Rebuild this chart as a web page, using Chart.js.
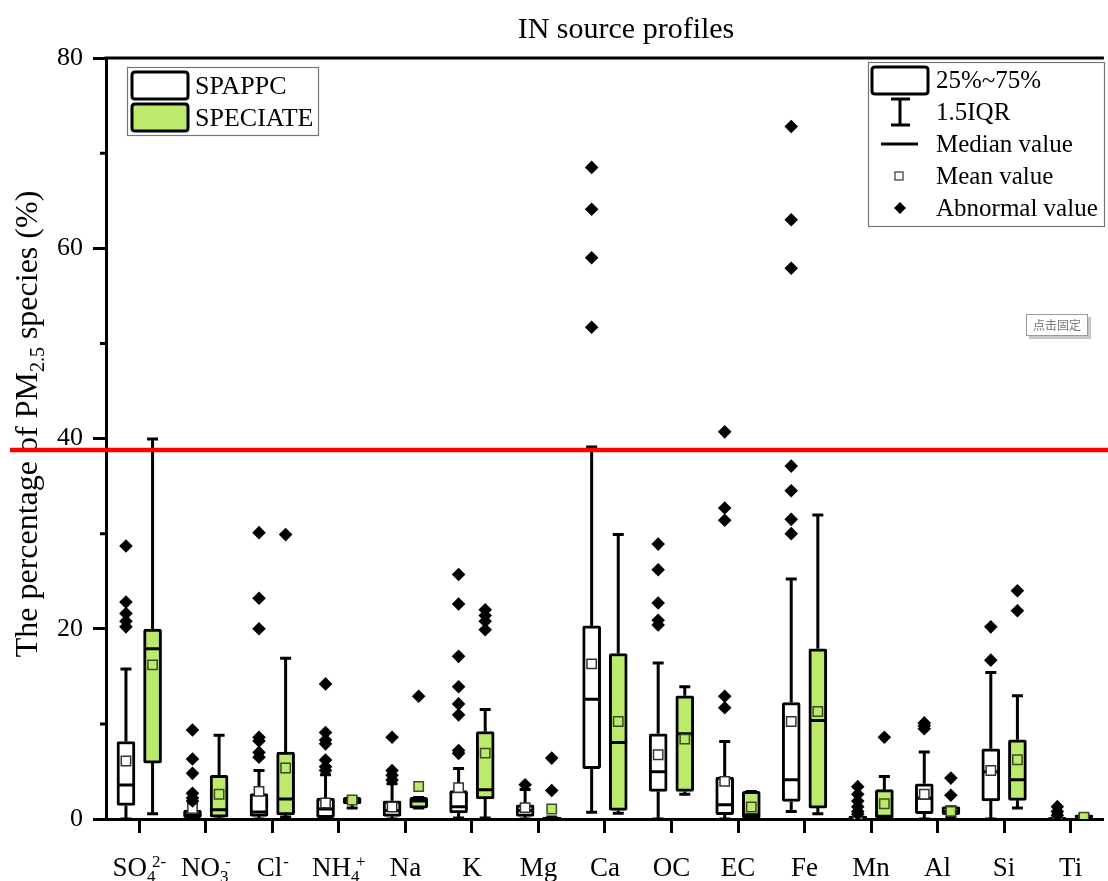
<!doctype html>
<html>

<head>
    <title>IN source profiles</title>
    <script src="https://cdn.jsdelivr.net/npm/chart.js@4/dist/chart.umd.min.js"></script>
    <style>
        html, body { margin: 0; padding: 0; background: #fff; overflow: hidden; }
        #container { width: 1112px; height: 881px; }
    </style>
</head>

<body>
    <div id="container">
        <canvas id="canvas"></canvas>
    </div>
    <script>
        var categories = ['SO4', 'NO3', 'Cl', 'NH4', 'Na', 'K', 'Mg', 'Ca', 'OC', 'EC', 'Fe', 'Mn', 'Al', 'Si', 'Ti'];
        // [base, subscript, superscript] for every x label
        var tickLabels = [['SO', '4', '2-'], ['NO', '3', '-'], ['Cl', '', '-'], ['NH', '4', '+'], ['Na', '', ''],
            ['K', '', ''], ['Mg', '', ''], ['Ca', '', ''], ['OC', '', ''], ['EC', '', ''], ['Fe', '', ''],
            ['Mn', '', ''], ['Al', '', ''], ['Si', '', ''], ['Ti', '', '']];
        var yMinorTicks = [10, 30, 50, 70];
        var refLine = 38.8;

        // SPAPPC
        var spappcQ1 = [1.43, 0.15, 0.28, 0.15, 0.28, 0.63, 0.28, 5.28, 2.9, 0.45, 1.85, 0.02, 0.56, 1.89, 0.02];
        var spappcQ3 = [8.15, 0.95, 2.66, 2.2, 1.92, 3.0, 1.5, 20.3, 8.96, 4.4, 12.25, 0.3, 3.7, 7.38, 0.15];
        var spappcMedian = [3.57, 0.45, 0.73, 1.05, 0.9, 1.3, 0.9, 12.6, 4.97, 1.5, 4.13, 0.1, 2.17, 4.97, 0.05];
        var spappcMean = [6.1, 1.1, 2.9, 1.68, 1.26, 3.3, 1.2, 16.3, 6.75, 3.95, 10.25, 0.35, 2.6, 5.1, 0.2];
        var spappcLow = [0, 0, 0, 0, 0, 0.1, 0, 0.7, 0, 0, 0.8, 0, 0, 0, 0];
        var spappcHigh = [15.76, 1.6, 5.1, 4.65, 3.7, 5.3, 3.1, 39.1, 16.4, 8.15, 25.24, 0.6, 7.04, 15.4, 0.3];
        var spappcOutliers = [
            [28.7, 22.8, 21.6, 20.8, 20.2],
            [9.35, 6.3, 4.8, 2.7, 2.2, 1.9],
            [30.1, 23.2, 20.0, 8.6, 8.2, 7.0, 6.5],
            [14.2, 9.1, 8.3, 7.9, 6.2, 5.5, 5.1],
            [8.6, 5.1, 4.6, 4.1],
            [25.7, 22.6, 17.1, 13.9, 12.1, 10.95, 7.2, 6.9],
            [3.6],
            [68.5, 64.1, 59.0, 51.7],
            [28.9, 26.2, 22.7, 20.9, 20.4],
            [40.7, 32.7, 31.4, 12.9, 11.7],
            [72.8, 63.0, 57.9, 37.1, 34.5, 31.5, 30.0],
            [3.4, 2.6, 1.9, 1.3, 0.8, 0.5],
            [10.1, 9.8, 9.5],
            [20.2, 16.7],
            [1.3, 0.8, 0.4]
        ];

        // SPECIATE
        var speciateQ1 = [5.88, 0.2, 0.42, 1.58, 1.15, 2.1, 0.0, 0.9, 2.9, 0.1, 1.15, 0.1, 0.45, 1.96, 0.05];
        var speciateQ3 = [19.96, 4.58, 7.04, 2.27, 2.27, 9.2, 0.2, 17.4, 12.95, 2.9, 17.9, 3.08, 1.3, 8.33, 0.45];
        var speciateMedian = [17.9, 0.98, 2.1, 2.0, 1.9, 3.08, 0.05, 8.05, 8.96, 0.45, 10.36, 0.3, 0.8, 4.13, 0.2];
        var speciateMean = [16.2, 2.6, 5.36, 2.0, 3.42, 6.93, 1.05, 10.25, 8.4, 1.26, 11.3, 1.6, 0.8, 6.23, 0.2];
        var speciateLow = [0.56, 0, 0.2, 1.15, 1.15, 0.1, 0, 0.6, 2.6, 0, 0.56, 0, 0.2, 1.15, 0];
        var speciateHigh = [39.96, 8.8, 16.9, 2.27, 2.27, 11.5, 0.2, 29.9, 13.9, 2.9, 31.96, 4.47, 1.3, 12.95, 0.45];
        var speciateOutliers = [
            [], [], [29.9], [], [12.9], [22.0, 21.4, 20.8, 19.9], [6.4, 3.0], [], [], [], [], [8.6], [4.3, 2.5], [24.0, 21.9], []
        ];

        var green = '#bbea6c';
        var serif = "'Liberation Serif', 'Times New Roman', serif";
        var offset = 0.2;

        function boxesOf(q1, q3, shift) {
            return q1.map(function (v, i) { return { x: i + shift, y: [v, q3[i]] }; });
        }

        function pointsOf(values, shift) {
            return values.map(function (v, i) { return { x: i + shift, y: v }; });
        }

        function outlierPoints(lists, shift) {
            var pts = [];
            lists.forEach(function (list, i) {
                list.forEach(function (v) { pts.push({ x: i + shift, y: v }); });
            });
            return pts;
        }

        function drawChem(c, parts, cx, base) {
            var big = '27px ' + serif, small = '17px ' + serif;
            c.font = big;
            var w0 = c.measureText(parts[0]).width;
            c.font = small;
            var w1 = parts[1] ? c.measureText(parts[1]).width : 0;
            var w2 = parts[2] ? c.measureText(parts[2]).width : 0;
            var supX = w0 + w1 * 0.6;
            var total = Math.max(w0 + w1, supX + w2);
            var x0 = cx - total / 2;
            c.textAlign = 'left';
            c.textBaseline = 'alphabetic';
            c.font = big;
            c.fillText(parts[0], x0, base);
            c.font = small;
            if (parts[1]) c.fillText(parts[1], x0 + w0, base + 6);
            if (parts[2]) c.fillText(parts[2], x0 + (parts[1] ? supX : w0 + 1), base - 9);
        }

        function roundRect(c, x, y, w, h, r) {
            c.beginPath();
            c.moveTo(x + r, y);
            c.lineTo(x + w - r, y);
            c.quadraticCurveTo(x + w, y, x + w, y + r);
            c.lineTo(x + w, y + h - r);
            c.quadraticCurveTo(x + w, y + h, x + w - r, y + h);
            c.lineTo(x + r, y + h);
            c.quadraticCurveTo(x, y + h, x, y + h - r);
            c.lineTo(x, y + r);
            c.quadraticCurveTo(x, y, x + r, y);
            c.closePath();
        }

        var boxPlugin = {
            id: 'boxPlugin',
            beforeDraw: function (chart) {
                var c = chart.ctx;
                c.save();
                c.fillStyle = '#fff';
                c.fillRect(0, 0, chart.width, chart.height);
                c.restore();
            },
            afterDatasetDraw: function (chart, args) {
                var meta = args.meta;
                if (meta.type !== 'bar') return;
                var ds = chart.data.datasets[args.index];
                var y = chart.scales.y;
                var c = chart.ctx;
                c.save();
                c.strokeStyle = '#000';
                c.lineWidth = 3;
                meta.data.forEach(function (bar, i) {
                    var x = bar.x, half = bar.width / 2;
                    var pq1 = y.getPixelForValue(ds.q1[i]);
                    var pq3 = y.getPixelForValue(ds.q3[i]);
                    var plo = y.getPixelForValue(ds.low[i]);
                    var phi = y.getPixelForValue(ds.high[i]);
                    var pmed = y.getPixelForValue(ds.median[i]);
                    c.beginPath();
                    c.moveTo(x, pq3); c.lineTo(x, phi);
                    c.moveTo(x - 5.5, phi); c.lineTo(x + 5.5, phi);
                    c.moveTo(x, pq1); c.lineTo(x, plo);
                    c.moveTo(x - 5.5, plo); c.lineTo(x + 5.5, plo);
                    c.moveTo(x - half + 1, pmed); c.lineTo(x + half - 1, pmed);
                    c.stroke();
                });
                c.restore();
            },
            afterDraw: function (chart) {
                var c = chart.ctx, area = chart.chartArea, y = chart.scales.y, x = chart.scales.x;
                c.save();
                // top frame line
                c.strokeStyle = '#000';
                c.lineWidth = 3;
                c.beginPath();
                c.moveTo(area.left - 1.5, area.top);
                c.lineTo(area.right, area.top);
                c.stroke();
                // minor y ticks
                c.beginPath();
                yMinorTicks.forEach(function (v) {
                    var py = y.getPixelForValue(v);
                    c.moveTo(area.left - 6, py);
                    c.lineTo(area.left, py);
                });
                c.stroke();

                // x labels
                c.fillStyle = '#000';
                tickLabels.forEach(function (parts, i) {
                    drawChem(c, parts, x.getPixelForValue(i), 876);
                });

                // y title with subscript
                c.save();
                c.translate(37, 424);
                c.rotate(-Math.PI / 2);
                var big = '32px ' + serif, small = '20px ' + serif;
                var t1 = 'The percentage of PM', t2 = '2.5', t3 = ' species (%)';
                c.font = big;
                var w1 = c.measureText(t1).width, w3 = c.measureText(t3).width;
                c.font = small;
                var w2 = c.measureText(t2).width;
                var sx = -(w1 + w2 + w3) / 2;
                c.textAlign = 'left';
                c.font = big; c.fillText(t1, sx, 0);
                c.font = small; c.fillText(t2, sx + w1, 7);
                c.font = big; c.fillText(t3, sx + w1 + w2, 0);
                c.restore();

                // title
                c.font = '30px ' + serif;
                c.textAlign = 'center';
                c.fillText('IN source profiles', 626, 38);

                // series legend
                c.lineWidth = 1.2;
                c.strokeStyle = '#777';
                c.strokeRect(127.5, 67.5, 191, 68);
                c.lineWidth = 3;
                c.strokeStyle = '#000';
                roundRect(c, 132, 72, 56, 27, 3);
                c.fillStyle = '#fff'; c.fill(); c.stroke();
                roundRect(c, 132, 104, 56, 27, 3);
                c.fillStyle = green; c.fill(); c.stroke();
                c.fillStyle = '#000';
                c.font = '26px ' + serif;
                c.textAlign = 'left';
                c.fillText('SPAPPC', 195, 94);
                c.fillText('SPECIATE', 195, 126);

                // box plot key
                c.lineWidth = 1.2;
                c.strokeStyle = '#777';
                c.strokeRect(868.5, 62.5, 236, 164);
                c.strokeStyle = '#000';
                c.lineWidth = 3;
                roundRect(c, 872, 67, 56, 27, 3);
                c.fillStyle = '#fff'; c.fill(); c.stroke();
                c.beginPath();
                c.moveTo(900, 99); c.lineTo(900, 125);
                c.moveTo(891, 99); c.lineTo(910, 99);
                c.moveTo(891, 125); c.lineTo(910, 125);
                c.moveTo(881, 144); c.lineTo(918, 144);
                c.stroke();
                c.lineWidth = 1.2;
                c.strokeStyle = '#333';
                c.fillStyle = '#fff';
                c.fillRect(895, 172, 8, 8);
                c.strokeRect(895, 172, 8, 8);
                c.fillStyle = '#000';
                c.beginPath();
                c.moveTo(894, 208); c.lineTo(900, 202); c.lineTo(906, 208); c.lineTo(900, 214);
                c.closePath();
                c.fill();
                c.font = '25px ' + serif;
                c.fillText('25%~75%', 936, 88);
                c.fillText('1.5IQR', 936, 120);
                c.fillText('Median value', 936, 152);
                c.fillText('Mean value', 936, 184);
                c.fillText('Abnormal value', 936, 216);

                // red reference line
                var ry = y.getPixelForValue(refLine);
                c.strokeStyle = '#ff0000';
                c.lineWidth = 4.5;
                c.beginPath();
                c.moveTo(10, ry);
                c.lineTo(chart.width, ry);
                c.stroke();

                // small popup box
                c.fillStyle = '#c8c8c8';
                c.fillRect(1029, 317, 62, 22);
                c.fillStyle = '#fff';
                c.fillRect(1026, 314, 62, 22);
                c.strokeStyle = '#999';
                c.lineWidth = 1;
                c.strokeRect(1026.5, 314.5, 61, 21);
                c.fillStyle = '#777';
                c.font = "12px 'Noto Sans CJK SC'";
                c.textAlign = 'center';
                c.textBaseline = 'middle';
                c.fillText('点击固定', 1057, 325);
                c.restore();
            }
        };

        window.onload = function () {
            var ctx = document.getElementById('canvas').getContext('2d');
            window.myBox = new Chart(ctx, {
                type: 'bar',
                data: {
                    labels: categories,
                    datasets: [{
                        label: 'SPAPPC',
                        xAxisID: 'x2',
                        data: boxesOf(spappcQ1, spappcQ3, -offset),
                        q1: spappcQ1, q3: spappcQ3, median: spappcMedian, low: spappcLow, high: spappcHigh,
                        backgroundColor: '#fff',
                        borderColor: '#000',
                        borderWidth: 3,
                        borderSkipped: false,
                        borderRadius: 2,
                        barThickness: 18,
                        grouped: false,
                        order: 2
                    }, {
                        label: 'SPECIATE',
                        xAxisID: 'x2',
                        data: boxesOf(speciateQ1, speciateQ3, offset),
                        q1: speciateQ1, q3: speciateQ3, median: speciateMedian, low: speciateLow, high: speciateHigh,
                        backgroundColor: green,
                        borderColor: '#000',
                        borderWidth: 3,
                        borderSkipped: false,
                        borderRadius: 2,
                        barThickness: 18,
                        grouped: false,
                        order: 2
                    }, {
                        type: 'scatter',
                        label: 'Mean SPAPPC',
                        xAxisID: 'x2',
                        data: pointsOf(spappcMean, -offset),
                        pointStyle: 'rect',
                        pointRadius: 6.6,
                        backgroundColor: '#fff',
                        borderColor: '#333',
                        borderWidth: 1.5,
                        order: 1
                    }, {
                        type: 'scatter',
                        label: 'Mean SPECIATE',
                        xAxisID: 'x2',
                        data: pointsOf(speciateMean, offset),
                        pointStyle: 'rect',
                        pointRadius: 6.6,
                        backgroundColor: green,
                        borderColor: '#3d4a25',
                        borderWidth: 1.5,
                        order: 1
                    }, {
                        type: 'scatter',
                        label: 'Abnormal SPAPPC',
                        xAxisID: 'x2',
                        data: outlierPoints(spappcOutliers, -offset),
                        pointStyle: 'rectRot',
                        pointRadius: 6.8,
                        backgroundColor: '#000',
                        borderWidth: 0,
                        order: 0
                    }, {
                        type: 'scatter',
                        label: 'Abnormal SPECIATE',
                        xAxisID: 'x2',
                        data: outlierPoints(speciateOutliers, offset),
                        pointStyle: 'rectRot',
                        pointRadius: 6.8,
                        backgroundColor: '#000',
                        borderWidth: 0,
                        order: 0
                    }]
                },
                options: {
                    responsive: true,
                    maintainAspectRatio: false,
                    animation: false,
                    layout: { padding: { top: 58, right: 2, left: 0, bottom: 0 } },
                    plugins: {
                        legend: { display: false },
                        tooltip: { enabled: false },
                        title: { display: false }
                    },
                    scales: {
                        x: {
                            type: 'category',
                            offset: true,
                            grid: { display: true, offset: false, drawOnChartArea: false, tickLength: 14, tickWidth: 3, tickColor: '#000' },
                            border: { display: true, color: '#000', width: 3 },
                            ticks: { autoSkip: false, maxRotation: 0, callback: function () { return ''; } },
                            afterFit: function (scale) { scale.height = 62; }
                        },
                        x2: {
                            type: 'linear',
                            position: 'bottom',
                            min: -0.5,
                            max: 14.5,
                            offset: false,
                            display: false
                        },
                        y: {
                            min: 0,
                            max: 80,
                            ticks: { stepSize: 20, color: '#000', padding: 10, font: { family: serif, size: 26 } },
                            grid: { display: true, drawOnChartArea: false, tickLength: 13, tickWidth: 3, tickColor: '#000' },
                            border: { display: true, color: '#000', width: 3 },
                            afterFit: function (scale) { scale.width = 106; }
                        }
                    }
                },
                plugins: [boxPlugin]
            });
        };
    </script>
</body>

</html>
